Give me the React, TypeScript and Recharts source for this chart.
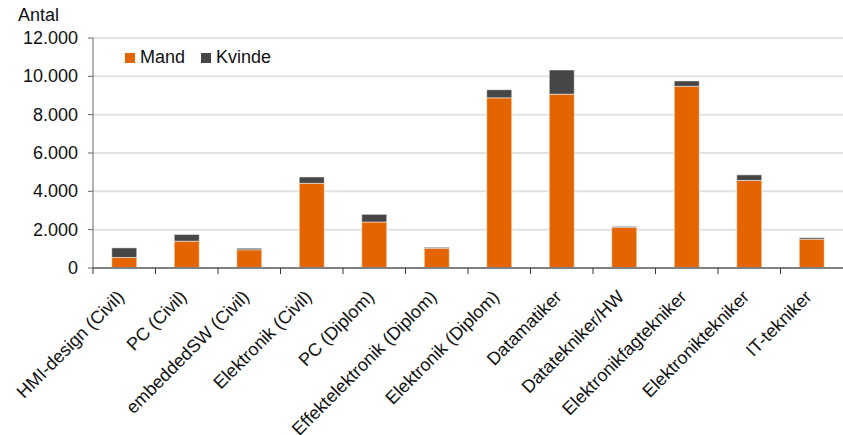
import { Bar, BarChart, CartesianGrid, XAxis, YAxis } from 'recharts'

const categories = [
    'HMI-design (Civil)',
    'PC (Civil)',
    'embeddedSW (Civil)',
    'Elektronik (Civil)',
    'PC (Diplom)',
    'Effektelektronik (Diplom)',
    'Elektronik (Diplom)',
    'Datamatiker',
    'Datatekniker/HW',
    'Elektronikfagtekniker',
    'Elektroniktekniker',
    'IT-tekniker',
]
const mand = [550, 1400, 950, 4420, 2400, 1030, 8880, 9070, 2120, 9480, 4570, 1505]
const kvinde = [500, 350, 80, 330, 400, 50, 420, 1260, 50, 280, 290, 75]
const yTicks = [0, 2000, 4000, 6000, 8000, 10000, 12000]

const data = categories.map((name, i) => ({ name, mand: mand[i], kvinde: kvinde[i] }))

const FONT = '"Liberation Sans", Arial, sans-serif'
const ORANGE = '#e46500'
const DARK = '#464646'
const W = 843
const H = 435
const LEFT = 93
const HALF_BAND = (W - LEFT) / categories.length / 2

const fmt = (v: number) => v.toLocaleString('de-DE')

function XTick({ x, y, payload }: any) {
    const px = x + 1
    const py = y + 23
    return (
        <g>
            <line x1={x - HALF_BAND} x2={x - HALF_BAND} y1={y - 7} y2={y - 1} stroke="#333" />
            <text
                x={px}
                y={py}
                textAnchor="end"
                transform={`rotate(-45, ${px}, ${py})`}
                fontSize={18}
                fontFamily={FONT}
                fill="#111"
            >
                {payload.value}
            </text>
        </g>
    )
}

function YTick({ x, y, payload }: any) {
    return (
        <text x={x} y={y} dy={6} textAnchor="end" fontSize={18} fontFamily={FONT} fill="#111">
            {fmt(payload.value)}
        </text>
    )
}

function LegendBox() {
    const items = [
        { label: 'Mand', color: ORANGE },
        { label: 'Kvinde', color: DARK },
    ]
    return (
        <div style={{ display: 'flex', fontFamily: FONT, fontSize: 18, color: '#111' }}>
            {items.map((it) => (
                <div key={it.label} style={{ display: 'flex', alignItems: 'center', marginRight: 16 }}>
                    <span style={{ width: 10, height: 10, background: it.color, marginRight: 5 }} />
                    <span>{it.label}</span>
                </div>
            ))}
        </div>
    )
}

export default function App() {
    return (
        <div style={{ position: 'relative', width: W, height: H, background: '#fff', overflow: 'hidden' }}>
            <style>{`body{margin:0}`}</style>
            <div style={{ position: 'absolute', left: 18, top: 5, fontFamily: FONT, fontSize: 18, color: '#111' }}>
                Antal
            </div>
            <BarChart
                width={W}
                height={H}
                data={data}
                margin={{ top: 38, right: 0, bottom: 0, left: 0 }}
                barCategoryGap="30%"
            >
                <CartesianGrid vertical={false} stroke="#e2e2e2" strokeWidth={2} />
                <XAxis
                    dataKey="name"
                    interval={0}
                    height={167}
                    tick={<XTick />}
                    tickSize={5}
                    tickLine={false}
                    axisLine={{ stroke: '#808080', strokeWidth: 2 }}
                />
                <YAxis
                    width={LEFT}
                    domain={[0, 12000]}
                    ticks={yTicks}
                    tickSize={5}
                    tickMargin={10}
                    axisLine={{ stroke: '#666' }}
                    tickLine={{ stroke: '#666' }}
                    tick={<YTick />}
                />
                <Bar dataKey="mand" name="Mand" stackId="a" fill={ORANGE} stroke="rgba(255,255,255,0.5)" isAnimationActive={false} />
                <Bar dataKey="kvinde" name="Kvinde" stackId="a" fill={DARK} stroke="rgba(255,255,255,0.5)" isAnimationActive={false} />
            </BarChart>
            <div style={{ position: 'absolute', left: 125, top: 47 }}>
                <LegendBox />
            </div>
        </div>
    )
}
